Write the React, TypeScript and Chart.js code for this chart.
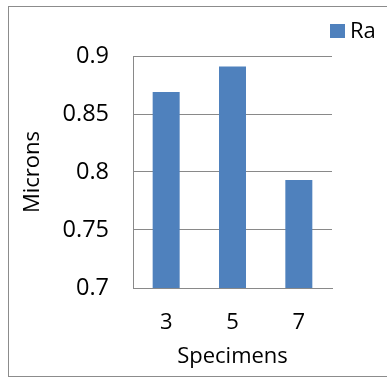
import React, { useEffect, useRef } from "react";
import { Chart, registerables } from "chart.js";

Chart.register(...registerables);

const categories: string[] = ["3", "5", "7"];
const raValues: number[] = [0.869, 0.891, 0.793];
const seriesLabel = "Ra";
const yTicks: number[] = [0.7, 0.75, 0.8, 0.85, 0.9];
const xTitle = "Specimens";
const yTitle = "Microns";

const FONT = "'Open Sans', 'DejaVu Sans', sans-serif";
const BAR = "#4F81BD";
const GRID = "#898989";

const framePlugin = {
  id: "frame",
  afterDraw(chart: any) {
    const ctx = chart.ctx;
    ctx.save();
    ctx.strokeStyle = "#8c8c8c";
    ctx.lineWidth = 1;
    ctx.strokeRect(8.5, 6.5, 400, 370);
    // legend
    const ds = chart.data.datasets[0];
    ctx.fillStyle = ds.backgroundColor;
    ctx.fillRect(330, 24, 15, 14);
    ctx.fillStyle = "#000";
    ctx.font = `22px ${FONT}`;
    ctx.textBaseline = "alphabetic";
    ctx.textAlign = "left";
    ctx.fillText(ds.label, 350, 38);
    ctx.restore();
  },
};

export default function App() {
  const ref = useRef<HTMLCanvasElement | null>(null);
  useEffect(() => {
    if (!ref.current) return;
    const chart = new Chart(ref.current, {
      type: "bar",
      data: {
        labels: categories,
        datasets: [
          {
            label: seriesLabel,
            data: raValues,
            backgroundColor: BAR,
            borderWidth: 0,
            barPercentage: 0.407,
            categoryPercentage: 1,
          },
        ],
      },
      options: {
        responsive: false,
        devicePixelRatio: 1,
        animation: false,
        layout: { padding: { top: 56, right: 55, left: 0, bottom: 0 } },
        plugins: { legend: { display: false }, tooltip: { enabled: false } },
        scales: {
          x: {
            grid: { display: false, drawTicks: false },
            border: { display: true, color: GRID, width: 1 },
            ticks: { color: "#000", padding: 22, font: { family: FONT, size: 22 } },
            title: {
              display: true,
              text: xTitle,
              color: "#000",
              font: { family: FONT, size: 22 },
              padding: { top: 0, bottom: 8 },
            },
            afterFit(scale: any) {
              scale.height = 90;
            },
          },
          y: {
            min: yTicks[0],
            max: yTicks[yTicks.length - 1],
            afterBuildTicks(scale: any) {
              scale.ticks = yTicks.map((v) => ({ value: v }));
            },
            grid: { color: GRID, lineWidth: 1, drawTicks: false },
            border: { display: true, color: GRID, width: 1 },
            ticks: {
              color: "#000",
              padding: 24,
              font: { family: FONT, size: 23.5 },
              callback: (v: any) => String(+Number(v).toFixed(2)),
            },
            title: {
              display: true,
              text: yTitle,
              color: "#000",
              font: { family: FONT, size: 22 },
              padding: { top: 20, bottom: 0 },
            },
            afterFit(scale: any) {
              scale.width = 133;
            },
          },
        },
      },
      plugins: [framePlugin],
    });
    return () => chart.destroy();
  }, []);
  return (
    <div style={{ position: "absolute", left: 0, top: 0, width: 387, height: 378, background: "#fff" }}>
      <canvas ref={ref} width={387} height={378} style={{ width: 387, height: 378, display: "block" }} />
    </div>
  );
}
